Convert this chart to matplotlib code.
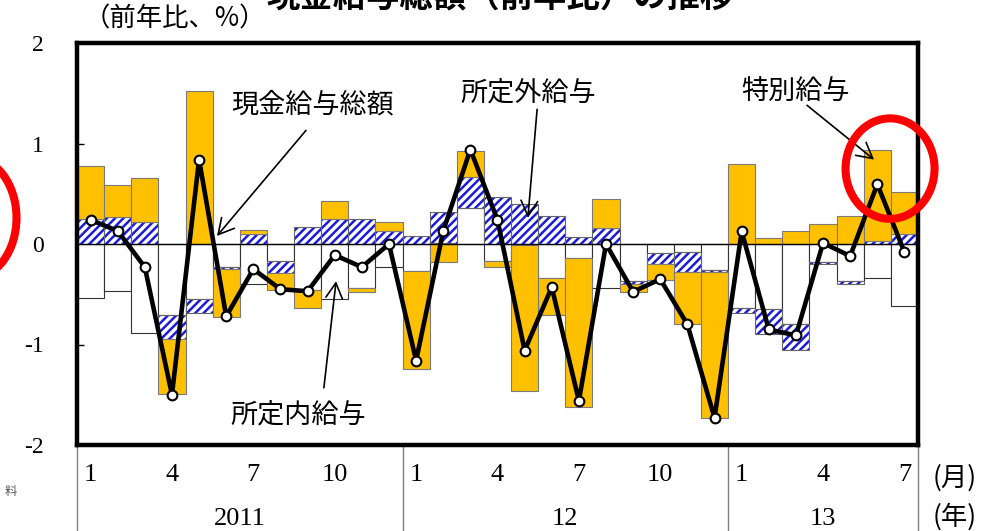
import numpy as np
import matplotlib.pyplot as plt
from matplotlib.patches import Ellipse
import matplotlib.transforms as mtransforms

plt.rcParams['font.family'] = ['Noto Sans CJK JP', 'DejaVu Sans']
plt.rcParams['hatch.linewidth'] = 1.8

# 2011/1 - 2013/7, 前年比 %
months = ["1", "2", "3", "4", "5", "6", "7", "8", "9", "10", "11", "12"] * 2 + ["1", "2", "3", "4", "5", "6", "7"]
years = ["2011", "12", "13"]
shotei_nai = [-0.535, -0.465, -0.89, -0.71, -0.55, -0.23, -0.40, -0.17, -0.46, -0.545, -0.44, -0.23,
              -0.27, 0.01, 0.355, -0.17, -0.01, -0.34, -0.135, -0.44, -0.37, -0.09, -0.08, -0.26,
              -0.64, -0.65, -0.80, -0.175, -0.365, -0.335, -0.615]
shotei_gai = [0.25, 0.265, 0.22, -0.24, -0.14, -0.02, 0.10, -0.12, 0.17, 0.25, 0.25, 0.125,
              0.08, 0.305, 0.315, 0.47, 0.40, 0.28, 0.065, 0.16, -0.03, -0.105, -0.20, -0.02,
              -0.05, -0.245, -0.25, -0.02, -0.03, 0.033, 0.10]
tokubetsu = [0.53, 0.32, 0.44, -0.54, 1.52, -0.48, 0.04, -0.17, -0.18, 0.18, -0.04, 0.093,
             -0.97, -0.18, 0.26, -0.06, -1.45, -0.37, -1.485, 0.29, -0.08, -0.16, -0.52, -1.45,
             0.80, 0.056, 0.13, 0.20, 0.275, 0.90, 0.42]
sougaku = [0.24, 0.13, -0.23, -1.50, 0.84, -0.72, -0.25, -0.45, -0.47, -0.11, -0.23, 0.0,
           -1.16, 0.13, 0.94, 0.24, -1.06, -0.43, -1.56, 0.0, -0.475, -0.35, -0.80, -1.73,
           0.125, -0.85, -0.91, 0.01, -0.12, 0.595, -0.08]

x = np.arange(len(months))

fig = plt.figure(figsize=(9.87, 5.31), dpi=100)
ax = fig.add_axes([77 / 987, 1 - 445 / 531, 841 / 987, 402 / 531])

# プラスは上に、マイナスは下に積む
pos = np.zeros(len(x))
neg = np.zeros(len(x))
def bottoms(vals):
    vals = np.array(vals)
    b = np.where(vals >= 0, pos, neg)
    pos[:] += np.where(vals >= 0, vals, 0)
    neg[:] += np.where(vals < 0, vals, 0)
    return vals, b

v, b = bottoms(shotei_nai)
ax.bar(x, v, bottom=b, width=1.0, color="white", edgecolor="#333333", linewidth=0.8, zorder=2)
v, b = bottoms(shotei_gai)
ax.bar(x, v, bottom=b, width=1.0, color="white", edgecolor="#1c1cd6", hatch="////", linewidth=0, zorder=2)
ax.bar(x, v, bottom=b, width=1.0, color="none", edgecolor="#666666", linewidth=0.8, zorder=2)
v, b = bottoms(tokubetsu)
ax.bar(x, v, bottom=b, width=1.0, color="#FFC000", edgecolor="#7a7a7a", linewidth=0.8, zorder=2)

ax.axhline(0, color="black", linewidth=1.0, zorder=3)
ax.plot(x, sougaku, color="black", linewidth=3.3, marker="o", markersize=7,
        markerfacecolor="white", markeredgecolor="black", markeredgewidth=1.5, zorder=4)

ax.set_xlim(-0.5, len(x) - 0.5)
ax.set_ylim(-2, 2)
for s in ax.spines.values():
    s.set_linewidth(3.2)
ax.set_yticks([-2, -1, 0, 1, 2])
ax.set_yticklabels(["-2", "-1", "0", "1", "2"], family="Liberation Serif", fontsize=17)
ax.tick_params(axis="y", direction="in", length=5, width=1, pad=24)

tick_idx = [i for i in range(len(x)) if months[i] in ("1", "4", "7", "10")]
ax.set_xticks(tick_idx)
ax.set_xticklabels([months[i] for i in tick_idx], family="Liberation Serif", fontsize=19)
ax.tick_params(axis="x", length=0, pad=14)

# 年の区切り線と年ラベル
trans = mtransforms.blended_transform_factory(ax.transData, ax.transAxes)
for xb in [-0.5, 11.5, 23.5, len(x) - 0.5]:
    ax.plot([xb, xb], [0, -0.22], transform=trans, color="#7f7f7f", linewidth=1, clip_on=False)
for label, xc in zip(years, [5.5, 17.5, 27]):
    ax.text(xc, -0.185, label, transform=trans, ha="center", va="center",
            family="Liberation Serif", fontsize=19)
ax.text(955, 531 - 478, "(月)", transform=None, ha="center", va="center", fontsize=19)
ax.text(955, 531 - 517, "(年)", transform=None, ha="center", va="center", fontsize=19)

# 注記
arrow = dict(arrowstyle="->,head_length=0.55,head_width=0.3", color="black", linewidth=1.2,
             mutation_scale=20, shrinkA=0, shrinkB=0)
ax.text(8.2, 1.38, "現金給与総額", ha="center", va="center", fontsize=19.5)
ax.annotate("", xy=(4.66, 0.08), xytext=(7.94, 1.13), arrowprops=arrow)
ax.text(7.65, -1.70, "所定内給与", ha="center", va="center", fontsize=19.5)
ax.annotate("", xy=(9.05, -0.37), xytext=(8.60, -1.43), arrowprops=arrow)
ax.text(16.12, 1.50, "所定外給与", ha="center", va="center", fontsize=19.5)
ax.annotate("", xy=(16.12, 0.26), xytext=(16.46, 1.34), arrowprops=arrow)
ax.text(25.97, 1.51, "特別給与", ha="center", va="center", fontsize=19.5)
ax.annotate("", xy=(28.88, 0.84), xytext=(26.41, 1.38), arrowprops=arrow)

# 赤丸
ax.add_patch(Ellipse((29.47, 0.75), 3.28, 1.0, fill=False, edgecolor="#ff0000",
                     linewidth=5.8, clip_on=False, zorder=5))
ax.add_patch(Ellipse((-4.37, 0.26), 3.28, 1.2, fill=False, edgecolor="#ff0000",
                     linewidth=5.8, clip_on=False, zorder=5))

fig.text(175 / 987, 1 - 19 / 531, "（前年比、%）", ha="center", va="center", fontsize=19)
fig.text(500 / 987, 1 + 2 / 531, "現金給与総額（前年比）の推移", ha="center", va="center",
         fontsize=24, fontweight="bold")
fig.text(11 / 987, 1 - 492 / 531, "料", ha="center", va="center", fontsize=9, color="#555555")

fig.savefig("out.png", dpi=100)
